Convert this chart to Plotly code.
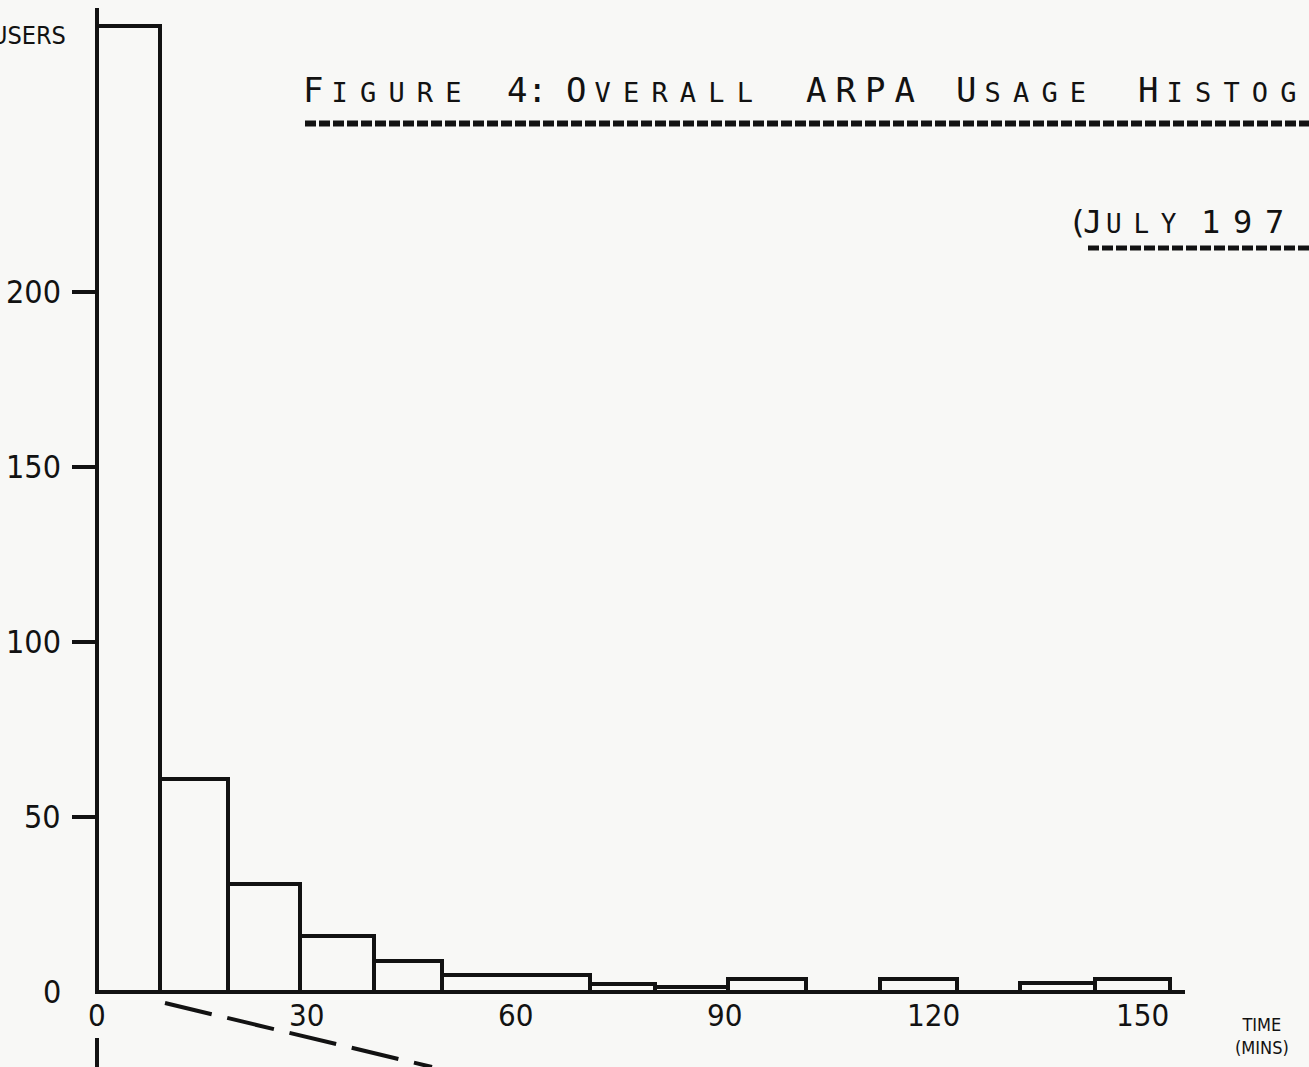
import plotly.graph_objects as go

# ---------------- data ----------------
bin_edges = [0, 9.0, 18.8, 29.1, 39.7, 49.5, 70.7, 80.1, 90.5, 101.7,
             112.3, 123.4, 132.4, 143.2, 153.9]            # minutes
users = [276, 61, 31, 16, 9, 5, 2.3, 1.4, 3.7, 0, 3.7, 0, 2.6, 3.7]
y_ticks = [0, 50, 100, 150, 200]
x_ticks = [0, 30, 60, 90, 120, 150]
title_words = ["FIGURE", "4:", "OVERALL", "ARPA", "USAGE", "HISTOG"]
subtitle_parts = ["(", "J", "ULY", "197"]
y_label = "USERS"
x_label = "TIME<br>(MINS)"

# ---------------- layout geometry ----------------
W, H = 1309, 1067
X0_PX, PX_PER_MIN = 97, 6.97
Y0_PX, PX_PER_USER = 992, 3.5
INK = "#121212"
BG = "#f8f8f6"
HAND = "Liberation Sans Narrow, DejaVu Sans Condensed, Arial Narrow, sans-serif"
TYPE = "DejaVu Sans Mono, monospace"


def px_x(p):
    return (p - X0_PX) / PX_PER_MIN


def px_y(p):
    return (Y0_PX - p) / PX_PER_USER


x_range = [px_x(0), px_x(W)]
y_range = [px_y(H), px_y(0)]

centers = [(a + b) / 2 for a, b in zip(bin_edges[:-1], bin_edges[1:])]
widths = [b - a for a, b in zip(bin_edges[:-1], bin_edges[1:])]

fig = go.Figure()
fig.add_trace(go.Bar(
    x=centers, y=users, width=widths,
    marker=dict(color="rgba(0,0,0,0)", line=dict(color=INK, width=4)),
    hoverinfo="skip", showlegend=False,
))

shapes = []
# y axis line (above baseline) and the short piece below the "0" label
shapes.append(dict(type="line", xref="x", yref="y", x0=0, x1=0, y0=0, y1=px_y(8),
                   line=dict(color=INK, width=4)))
shapes.append(dict(type="line", xref="x", yref="y", x0=0, x1=0, y0=px_y(1038), y1=y_range[0],
                   line=dict(color=INK, width=4)))
# baseline
shapes.append(dict(type="line", xref="x", yref="y", x0=0, x1=px_x(1185), y0=0, y1=0,
                   line=dict(color=INK, width=4)))
# y tick marks
for t in y_ticks[1:]:
    shapes.append(dict(type="line", xref="x", yref="y", x0=px_x(72), x1=0, y0=t, y1=t,
                       line=dict(color=INK, width=4)))
# dashed diagonal stroke under the axis
shapes.append(dict(type="line", xref="x", yref="y", x0=px_x(165), y0=px_y(1003),
                   x1=px_x(432), y1=px_y(1067),
                   line=dict(color=INK, width=4, dash="48px,16px")))
# typed underlines
shapes.append(dict(type="line", xref="paper", yref="paper", x0=305 / W, x1=1.0,
                   y0=1 - 123.5 / H, y1=1 - 123.5 / H,
                   line=dict(color=INK, width=6, dash="11px,3px")))
shapes.append(dict(type="line", xref="paper", yref="paper", x0=1088 / W, x1=1.0,
                   y0=1 - 248 / H, y1=1 - 248 / H,
                   line=dict(color=INK, width=5, dash="11px,3px")))

annotations = []
# y tick labels
for t in y_ticks:
    annotations.append(dict(x=px_x(63), y=t, xref="x", yref="y", text=str(t),
                            xanchor="right", yanchor="middle", showarrow=False,
                            font=dict(family=HAND, size=32, color=INK)))
# x tick labels
for t in x_ticks:
    annotations.append(dict(x=t, y=px_y(1015), xref="x", yref="y", text=str(t),
                            xanchor="center", yanchor="middle", showarrow=False,
                            font=dict(family=HAND, size=31, color=INK)))
# axis titles
annotations.append(dict(x=68 / W, y=1 - 36 / H, xref="paper", yref="paper", text=y_label,
                        xanchor="right", yanchor="middle", showarrow=False,
                        font=dict(family=HAND, size=25, color=INK)))
annotations.append(dict(x=1262 / W, y=1 - 1036 / H, xref="paper", yref="paper",
                        text=x_label, xanchor="center", yanchor="middle", showarrow=False,
                        font=dict(family=HAND, size=18, color=INK)))


def span(txt, size, pitch):
    ls = pitch - size * 0.602
    return f'<span style="font-size:{size}px;letter-spacing:{ls:.1f}px">{txt}</span>'


def small_caps(word, big=34, small=27, pitch=28.5):
    if word == "4:":
        return span(word, big, 20)
    if word.isalpha() and word != "ARPA":
        return span(word[0], big, pitch) + span(word[1:], small, pitch)
    return span(word, big, pitch + 1)


title_x = [301, 505, 564, 804, 954, 1136]
for w, xp in zip(title_words, title_x):
    annotations.append(dict(x=xp / W, y=1 - 90 / H, xref="paper", yref="paper",
                            text=small_caps(w), xanchor="left", yanchor="middle",
                            showarrow=False, font=dict(family=TYPE, size=34, color=INK)))

sub_text = [
    span(subtitle_parts[0], 32, 15) + span(subtitle_parts[1], 32, 23)
    + span(subtitle_parts[2], 26, 27.5),
    span(subtitle_parts[3], 32, 32),
]
sub_x = [1066, 1199]
for t, xp in zip(sub_text, sub_x):
    annotations.append(dict(x=xp / W, y=1 - 222 / H, xref="paper", yref="paper",
                            text=t, xanchor="left", yanchor="middle",
                            showarrow=False, font=dict(family=TYPE, size=32, color=INK)))

fig.update_layout(
    width=W, height=H,
    margin=dict(l=0, r=0, t=0, b=0),
    paper_bgcolor=BG, plot_bgcolor=BG,
    bargap=0,
    xaxis=dict(range=x_range, visible=False, fixedrange=True),
    yaxis=dict(range=y_range, visible=False, fixedrange=True),
    shapes=shapes, annotations=annotations,
    showlegend=False,
)

fig.write_html(
    "out.html",
    config={"displayModeBar": False},
    post_script=f"document.body.style.margin='0px';document.body.style.background='{BG}';",
)
